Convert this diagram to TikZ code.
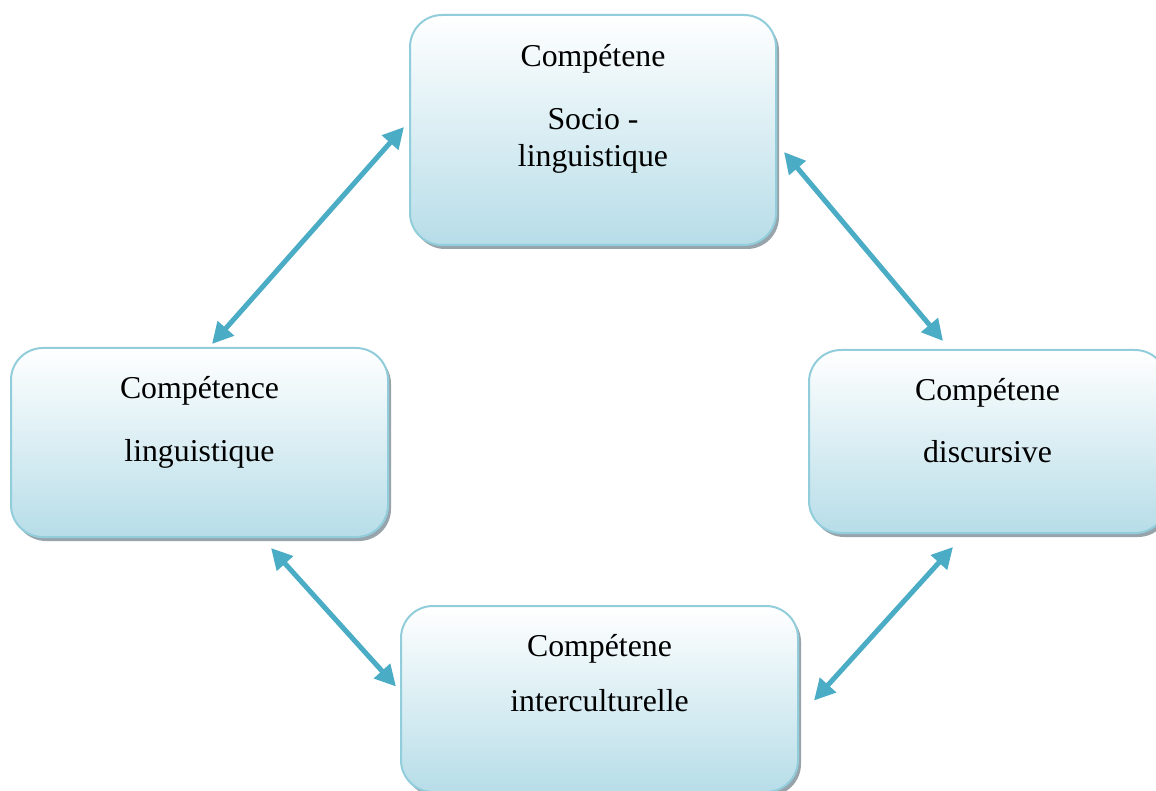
\documentclass[tikz,border=0pt]{standalone}
\usepackage{fontspec}
\setmainfont{Liberation Serif}
\usetikzlibrary{arrows.meta,shadows,calc}
\definecolor{arrowc}{RGB}{75,172,198}
\definecolor{edgec}{RGB}{146,205,220}
\definecolor{fillb}{RGB}{183,221,232}
\definecolor{shadc}{RGB}{140,155,162}
\tikzset{
  box/.style={draw=edgec, line width=2pt, rounded corners=32pt, top color=white, bottom color=fillb,
    drop shadow={shadow xshift=3pt, shadow yshift=-4pt, fill=shadc, opacity=0.9}},
  lbl/.style={anchor=base, inner sep=0pt, font=\fontsize{31.8}{38}\selectfont},
  tip/.tip={Triangle[length=21pt 0,width=21pt 0,color=arrowc,fill=arrowc]},
  link/.style={draw=arrowc, line width=5pt, tip-tip}
}
\begin{document}
\begin{tikzpicture}[x=1pt,y=-1pt]
\useasboundingbox (0,0) rectangle (1156,791);
\clip (0,0) rectangle (1156,791);
\fill[white] (0,0) rectangle (1156,791);
% boxes
\node[box, minimum width=366pt, minimum height=230pt] (T) at (593,130) {};
\node[box, minimum width=377pt, minimum height=189pt] (L) at (199.5,442.5) {};
\node[box, minimum width=358pt, minimum height=183pt] (R) at (988,441.5) {};
\node[box, minimum width=397pt, minimum height=186pt] (B) at (599.5,699) {};
% labels
\node[lbl] (t1) at (593,67) {Compétene};
\node[lbl] (t2) at (593,130) {Socio -};
\node[lbl] (t3) at (593,167) {linguistique};
\node[lbl] (l1) at (199.5,398) {Compétence};
\node[lbl] (l2) at (199.5,461) {linguistique};
\node[lbl] (r1) at (987.5,400) {Compétene};
\node[lbl] (r2) at (987.5,462) {discursive};
\node[lbl] (b1) at (599.5,656) {Compétene};
\node[lbl] (b2) at (599.5,711) {interculturelle};
% connectors
\draw[link] ($(L.north)+(12.5,-3)$) -- ($(T.west)+(-5,-3)$);
\draw[link] ($(T.east)+(7,22)$) -- ($(R.north)+(-45,-8)$);
\draw[link] ($(L.south)+(71.5,10)$) -- ($(B.west)+(-4,-12.5)$);
\draw[link] ($(R.south)+(-35,13)$) -- ($(B.east)+(15,1.5)$);
\end{tikzpicture}
\end{document}
